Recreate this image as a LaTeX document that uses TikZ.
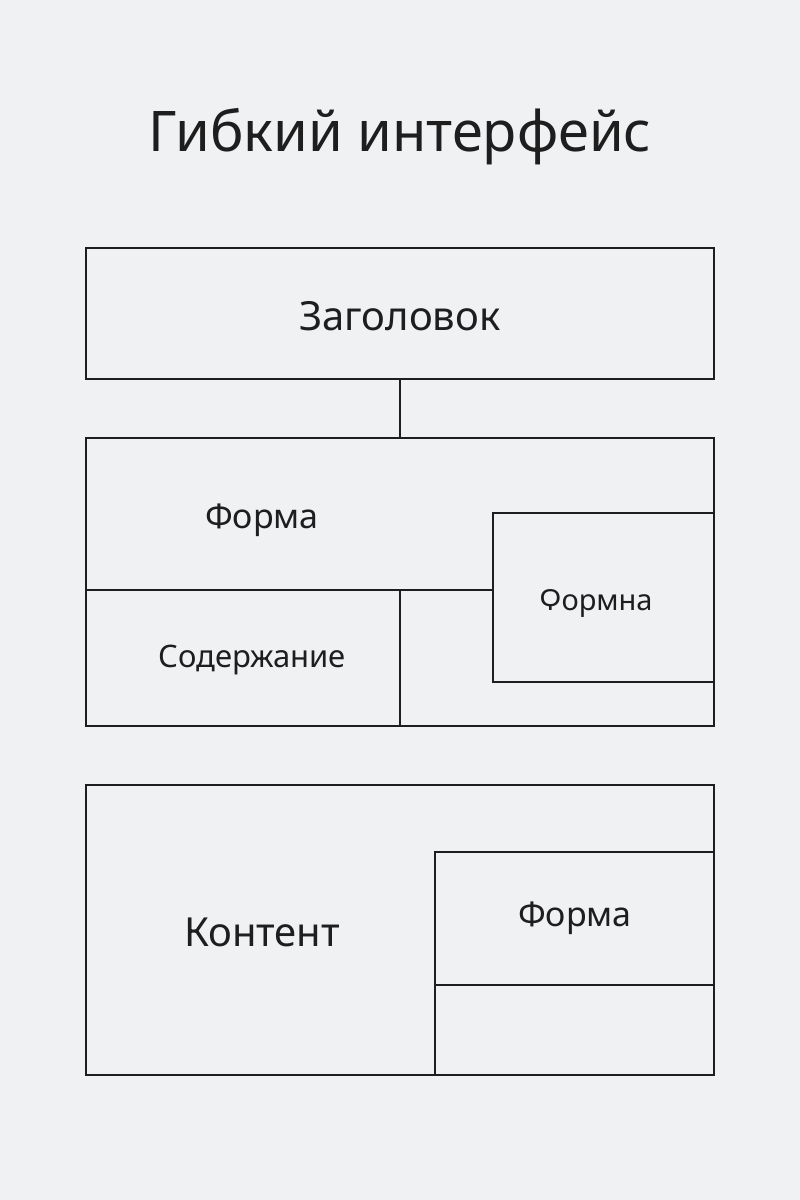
\documentclass[tikz,border=0pt]{standalone}
\usepackage{fontspec}
\setmainfont{Noto Sans}
\definecolor{bg}{HTML}{F0F1F3}
\definecolor{ink}{HTML}{1E1E1E}
\begin{document}
\begin{tikzpicture}[x=1pt,y=-1pt,
  ln/.style={draw=ink,line width=1.8pt},
  lbl/.style={text=ink,inner sep=0pt,anchor=center}]
\fill[bg] (0,0) rectangle (800,1200);
\useasboundingbox (0,0) rectangle (800,1200);
\node[lbl,font=\fontsize{56}{60}\selectfont\bfseries] (title) at (400,137) {Гибкий интерфейс};
% box 1
\draw[ln] (86,248) rectangle (714,379);
\coordinate (b1) at (400,379);
\node[lbl,font=\fontsize{40}{44}\selectfont] (zag) at (400,316) {Заголовок};
% box 2
\draw[ln] (86,438) rectangle (714,726);
\coordinate (b2) at (400,438);
\draw[ln] (b1) -- (b2);
\draw[ln] (86,590) -- (493,590);
\draw[ln] (400,590) -- (400,726);
\draw[ln] (493,513) rectangle (714,682);
\node[lbl,font=\fontsize{34}{38}\selectfont] (f1) at (262,520) {Форма};
\node[lbl,font=\fontsize{31}{35}\selectfont] (sod) at (252,660) {Содержание};
\node[lbl,font=\fontsize{29}{33}\selectfont] (f2) at (596,603) {Ϙормна};
% box 3
\draw[ln] (86,785) rectangle (714,1075);
\draw[ln] (435,852) -- (435,1075);
\draw[ln] (435,852) rectangle (714,985);
\node[lbl,font=\fontsize{40}{44}\selectfont] (kon) at (262,932) {Контент};
\node[lbl,font=\fontsize{34}{38}\selectfont] (f3) at (575,918) {Форма};
\end{tikzpicture}
\end{document}
